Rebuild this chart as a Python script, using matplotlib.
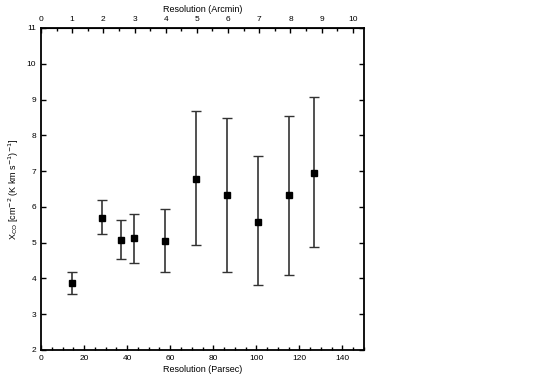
import matplotlib
matplotlib.use("Agg")
import matplotlib.pyplot as plt
from matplotlib.ticker import MultipleLocator

plt.rcParams['font.family'] = ['Liberation Sans', 'DejaVu Sans']

resolution_pc = [14.2, 28.5, 37.3, 43.0, 57.4, 71.8, 86.3, 100.7, 115.1, 126.8]
xco = [3.87, 5.70, 5.08, 5.13, 5.05, 6.79, 6.33, 5.59, 6.33, 6.95]
err_low = [0.30, 0.47, 0.55, 0.69, 0.88, 1.86, 2.15, 1.76, 2.23, 2.07]
err_high = [0.30, 0.48, 0.55, 0.67, 0.89, 1.89, 2.15, 1.82, 2.21, 2.12]

PC_PER_ARCMIN = 14.48

fig = plt.figure(figsize=(5.4, 3.78), dpi=100)
ax = fig.add_axes([41/540, 28/378, (364-41)/540, (350-28)/378])

ax.errorbar(resolution_pc, xco, yerr=[err_low, err_high], fmt='s', color='black',
            ecolor='#333333', elinewidth=1.2, capsize=3.5, capthick=1.0, markersize=4.5)

ax.set_xlim(0, 150)
ax.set_ylim(2, 11)
ax.xaxis.set_major_locator(MultipleLocator(20))
ax.xaxis.set_minor_locator(MultipleLocator(5))
ax.yaxis.set_major_locator(MultipleLocator(1))
ax.tick_params(axis='both', which='both', direction='in', labelsize=6, top=False, right=True)
ax.tick_params(axis='both', which='major', length=3.5, width=1.0)
ax.tick_params(axis='both', which='minor', length=2, width=1.0)
ax.tick_params(axis='y', which='minor', left=False, right=False)
for s in ax.spines.values():
    s.set_linewidth(1.3)

ax.set_xlabel('Resolution (Parsec)', fontsize=6.5, labelpad=2)
ax.set_ylabel(r'X$_{\rm CO}$ [cm$^{-2}$ (K km s$^{-1}$)$^{-1}$]', fontsize=6.5, labelpad=4)

secax = ax.secondary_xaxis('top', functions=(lambda x: x / PC_PER_ARCMIN, lambda a: a * PC_PER_ARCMIN))
secax.xaxis.set_major_locator(MultipleLocator(1))
secax.xaxis.set_minor_locator(MultipleLocator(0.5))
secax.tick_params(axis='x', which='both', direction='in', labelsize=6)
secax.tick_params(which='major', length=3.5, width=1.0)
secax.tick_params(which='minor', length=2, width=1.0)
secax.set_xlabel('Resolution (Arcmin)', fontsize=6.5, labelpad=3)

fig.savefig('out.png', dpi=100)
